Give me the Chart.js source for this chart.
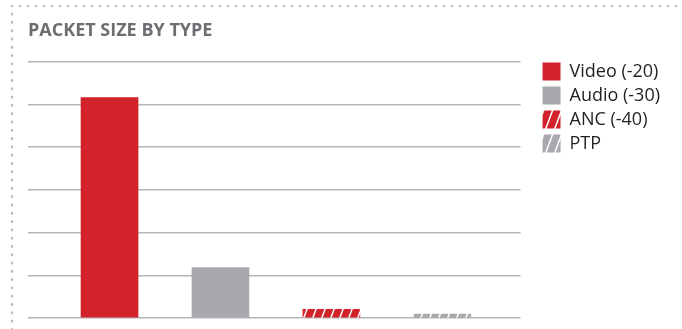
<!DOCTYPE html>
<html>
<head>
<meta charset="utf-8">
<script src="https://cdn.jsdelivr.net/npm/chart.js@4.4.1/dist/chart.umd.min.js"></script>
<style>
    html, body { margin: 0; padding: 0; background: #fff; }
    #wrap { position: relative; width: 682px; height: 329px; }
    #dotsTop {
        position: absolute; left: 8px; top: 2px; width: 674px; height: 8px;
        background-image: radial-gradient(circle, #b8b9bb 1px, transparent 1.6px);
        background-size: 8px 8px; background-repeat: repeat-x;
    }
    #dotsLeft {
        position: absolute; left: 8px; top: 10px; width: 8px; height: 319px;
        background-image: radial-gradient(circle, #b8b9bb 1px, transparent 1.6px);
        background-size: 8px 8.3px; background-repeat: repeat-y;
    }
    canvas { position: absolute; left: 0; top: 0; }
</style>
</head>
<body>
<div id="wrap">
    <canvas id="chart" width="682" height="329"></canvas>
    <div id="dotsTop"></div>
    <div id="dotsLeft"></div>
</div>
<script>
const types = ['Video (-20)', 'Audio (-30)', 'ANC (-40)', 'PTP'];
const sizes = [5.16, 1.18, 0.2, 0.09];

const RED = '#d2232a';
const GREY = '#a7a9ac';

// steep white stripes, used for ANC and PTP
function stripes(color) {
    const w = 9, h = 24;
    const c = document.createElement('canvas');
    c.width = w;
    c.height = h;
    const g = c.getContext('2d');
    g.fillStyle = color;
    g.fillRect(0, 0, w, h);
    g.strokeStyle = '#fff';
    g.lineWidth = 1.5;
    g.beginPath();
    for (let k = -1; k <= 1; k++) {
        g.moveTo(k * w, h);
        g.lineTo(k * w + w, 0);
    }
    g.stroke();
    return g.createPattern(c, 'repeat');
}

const fills = [RED, GREY, stripes(RED), stripes(GREY)];

const datasets = types.map((t, i) => ({
    label: t,
    data: [{ x: i, y: sizes[i] }],
    backgroundColor: fills[i],
    borderWidth: 0,
    barThickness: 57,
    grouped: false
}));

// nudge the legend to where it sits in the original
const legendShift = {
    id: 'legendShift',
    afterLayout(chart) {
        const lg = chart.legend;
        lg.left = chart.chartArea.right + 16;
        lg.top = chart.chartArea.top - 5;
        lg.right = chart.width;
        lg.bottom = chart.height;
    }
};

Chart.defaults.font.family = "'Open Sans', sans-serif";

new Chart(document.getElementById('chart'), {
    type: 'bar',
    data: { datasets: datasets },
    plugins: [legendShift],
    options: {
        responsive: false,
        animation: false,
        layout: { padding: { left: 28, top: 20, right: 28, bottom: 11 } },
        scales: {
            x: {
                type: 'linear',
                display: false,
                offset: false,
                min: -0.735,
                max: 3.705
            },
            y: {
                min: 0,
                max: 6,
                ticks: { display: false, stepSize: 1 },
                grid: { color: '#b4b5b8', lineWidth: 1.5, drawTicks: false },
                border: { display: false }
            }
        },
        plugins: {
            title: {
                display: true,
                text: 'PACKET SIZE BY TYPE',
                align: 'start',
                color: '#6d6e71',
                font: { size: 18, weight: 'bold' },
                padding: { top: 0, bottom: 20 }
            },
            legend: {
                position: 'right',
                align: 'start',
                labels: {
                    boxWidth: 18,
                    boxHeight: 18,
                    padding: 6,
                    color: '#231f20',
                    font: { size: 18 }
                }
            },
            tooltip: { enabled: false }
        }
    }
});
</script>
</body>
</html>
